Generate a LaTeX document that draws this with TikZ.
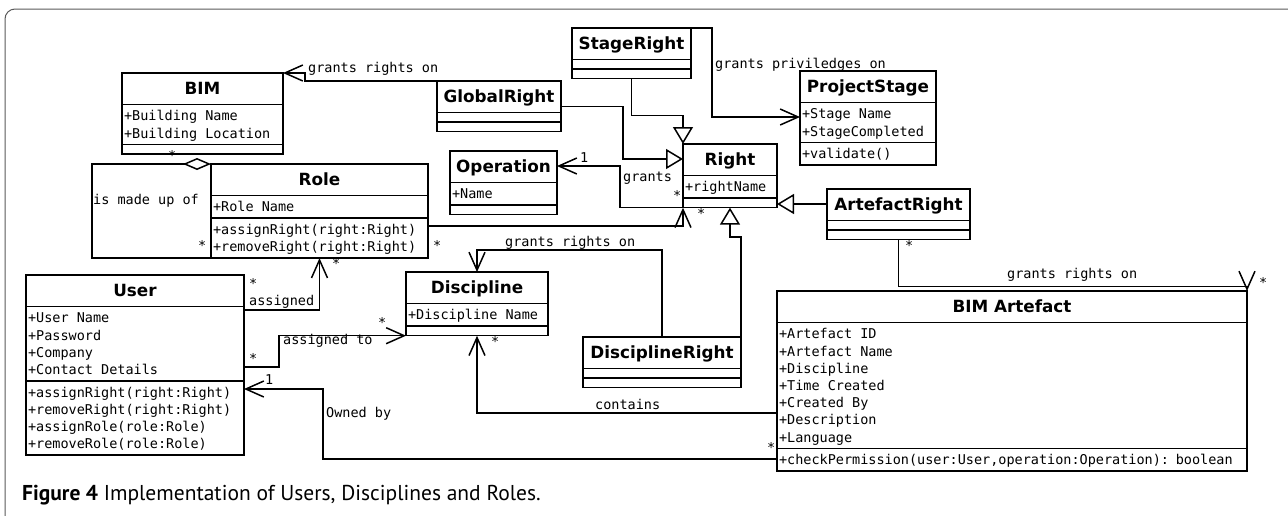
\documentclass[tikz,border=0pt]{standalone}
\usepackage{fontspec}
\usetikzlibrary{shapes.multipart,arrows.meta,calc}
\newfontfamily\umlmono{DejaVu Sans Mono}
\newfontfamily\umlsans{DejaVu Sans}
\newfontfamily\capfont{PT Sans}

\newcommand{\clsname}[1]{\centering\umlsans\bfseries\fontsize{16.8}{19}\selectfont\spaceskip=0pt\relax\rule[-7pt]{0pt}{26pt}#1\par}
\newcommand{\mbr}{\spaceskip=0pt\relax\rule[-3.5pt]{0pt}{17.2pt}}
\newcommand{\nomembers}{\rule{0pt}{4pt}}

\tikzset{
  umlclass/.style={rectangle split, rectangle split parts=3, draw, line width=1.5pt,
    inner xsep=2pt, inner ysep=2pt, outer sep=0pt, anchor=north west, align=left,
    font=\umlmono\fontsize{13.5}{17.2}\selectfont},
  assoc/.style={line width=1.5pt, -{Straight Barb[length=18pt,width=16pt]}},
  gen/.style={line width=1.5pt, -{Triangle[open,length=17pt,width=20pt]}},
  aggr/.style={line width=1.5pt, -{Diamond[open,length=28pt,width=12pt]}},
  mult/.style={font=\umlmono\fontsize{13.5}{17.2}\selectfont, inner sep=0pt, anchor=base west},
  frame/.style={line width=1pt, draw=black!65, rounded corners=10pt}
}

\begin{document}
\begin{tikzpicture}[x=1pt,y=-1pt]
\useasboundingbox (0,0) rectangle (1288,515);
\draw[frame] (5,520) -- (5,9) -- (1288,9);

% classes
\node[umlclass, text width=157pt] (bim) at (122,73)
  {\clsname{BIM}\nodepart{two}\mbr+Building Name\\\mbr+Building Location\nodepart{three}\nomembers};
\node[umlclass, text width=213pt] (role) at (211,164)
  {\clsname{Role}\nodepart{two}\mbr+Role Name\nodepart{three}\mbr+assignRight(right:Right)\\\mbr+removeRight(right:Right)};
\node[umlclass, text width=214pt] (user) at (26,275)
  {\clsname{User}\nodepart{two}\mbr+User Name\\\mbr+Password\\\mbr+Company\\\mbr+Contact Details
   \nodepart{three}\mbr+assignRight(right:Right)\\\mbr+removeRight(right:Right)\\\mbr+assignRole(role:Role)\\\mbr+removeRole(role:Role)};
\node[umlclass, text width=138pt] (disc) at (406,272)
  {\clsname{Discipline}\nodepart{two}\mbr+Discipline Name\nodepart{three}\nomembers};
\node[umlclass, text width=103pt] (oper) at (450,151)
  {\clsname{Operation}\nodepart{two}\mbr+Name\nodepart{three}\nomembers};
\node[umlclass, text width=120pt] (globalr) at (437,81)
  {\clsname{GlobalRight}\nodepart{two}\nomembers\nodepart{three}\nomembers};
\node[umlclass, text width=115pt] (stager) at (572,28)
  {\clsname{StageRight}\nodepart{two}\nomembers\nodepart{three}\nomembers};
\node[umlclass, text width=90pt] (rgt) at (683,144)
  {\clsname{Right}\nodepart{two}\mbr+rightName\nodepart{three}\nomembers};
\node[umlclass, text width=132pt] (pstage) at (800,71)
  {\clsname{ProjectStage}\nodepart{two}\mbr+Stage Name\\\mbr+StageCompleted\nodepart{three}\mbr+validate()};
\node[umlclass, text width=139pt] (artr) at (827,189)
  {\clsname{ArtefactRight}\nodepart{two}\nomembers\nodepart{three}\nomembers};
\node[umlclass, text width=154pt] (discr) at (583,337)
  {\clsname{DisciplineRight}\nodepart{two}\nomembers\nodepart{three}\nomembers};
\node[umlclass, text width=466pt] (artefact) at (777,291)
  {\clsname{BIM Artefact}\nodepart{two}\mbr+Artefact ID\\\mbr+Artefact Name\\\mbr+Discipline\\\mbr+Time Created\\\mbr+Created By\\\mbr+Description\\\mbr+Language
   \nodepart{three}\mbr+checkPermission(user:User,operation:Operation): boolean};

% generalisations
\draw[gen] (stager.south) -- ++(0,37) -| (rgt.north west);
\draw[gen] (globalr.east) -- ++(62,0) |- ($(rgt.north west)+(0,15)$);
\coordinate (artr-in) at ($(artr.north west)+(0,15)$);
\draw[gen] (artr-in) -- (artr-in -| rgt.east);
\draw[gen] (discr.north east) -- ++(0,-100) -| (rgt.south);

% associations
\draw[assoc] (globalr.north west) -- ++(-132,0) |- (bim.north east);
\draw[assoc] (rgt.south west) -- ++(-63,0) |- ($(oper.north east)+(0,15)$);
\draw[assoc] (stager.north east) -- ++(21,0) |- ($(pstage.north west)+(0,46)$);
\draw[assoc] ($(role.north east)+(0,62)$) -| (rgt.south west);
\draw[assoc] (discr.north) -- ++(0,-87) -| (disc.north);
\draw[assoc] ($(user.north east)+(0,35)$) -| (role.south);
\draw[assoc] ($(user.north east)+(0,92)$) -- ++(35,0) |- (disc.south west);
\draw[assoc] ($(artefact.south west)+(0,-12)$) -- ++(-454,0) |- ($(user.north east)+(0,114)$);
\draw[assoc] ($(artefact.north west)+(0,122)$) -| (disc.south);
\draw[assoc] (artr.south) -- ++(0,47) -| (artefact.north east);
\draw[aggr] (role.south west) -- ++(-119,0) |- (role.north west);

% labels
\node[mult] (l-bim) at (308,72) {grants rights on};
\node[mult] (l-stage) at (715,68) {grants priviledges on};
\node[mult] (m-oper) at (580,162) {1};
\node[mult] (l-grants) at (623,181) {grants};
\node[mult] (m-rgt1) at (673,200) {*};
\node[mult] (m-rgt2) at (697,218) {*};
\node[mult] (m-role1) at (433,250) {*};
\node[mult] (m-role2) at (198,250) {*};
\node[mult] (m-role3) at (168,160) {*};
\node[mult] (l-madeup) at (93,204) {is made up of};
\node[mult] (m-role4) at (332,268) {*};
\node[mult] (m-user1) at (249,288) {*};
\node[mult] (l-assigned) at (249,305) {assigned};
\node[mult] (m-disc1) at (378,327) {*};
\node[mult] (l-assignedto) at (283,344) {assigned to};
\node[mult] (m-user2) at (249,363) {*};
\node[mult] (m-user3) at (265,384) {1};
\node[mult] (l-owned) at (326,417) {Owned by};
\node[mult] (l-disc) at (505,246) {grants rights on};
\node[mult] (m-disc2) at (491,346) {*};
\node[mult] (l-contains) at (595,409) {contains};
\node[mult] (m-art1) at (767,452) {*};
\node[mult] (m-artr) at (905,250) {*};
\node[mult] (l-art) at (1007,278) {grants rights on};
\node[mult] (m-art2) at (1259,287) {*};

\node[anchor=base west, inner sep=0pt, font=\capfont\fontsize{21.5}{25}\selectfont] (caption) at (22,500)
  {\textbf{Figure 4} Implementation of Users, Disciplines and Roles.};
\end{tikzpicture}
\end{document}
